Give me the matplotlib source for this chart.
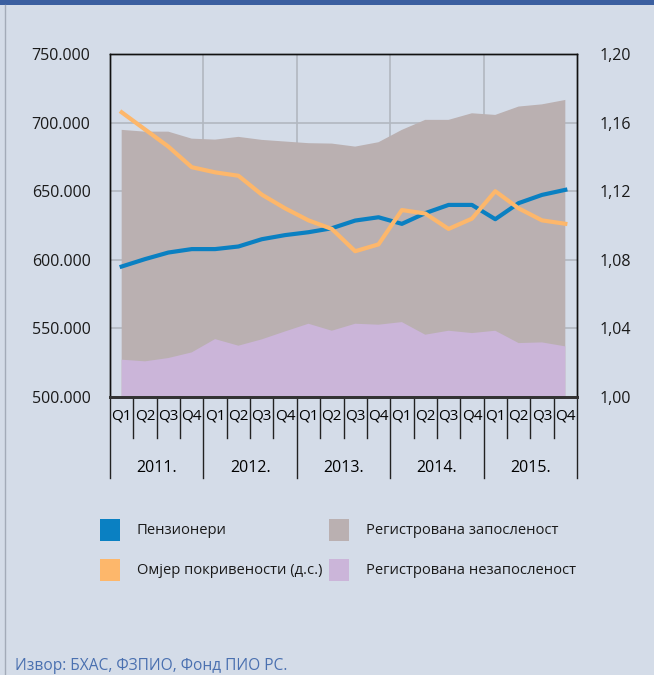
import matplotlib
matplotlib.use("Agg")
import matplotlib.pyplot as plt
from matplotlib.patches import Rectangle
from matplotlib.lines import Line2D
from matplotlib.ticker import FuncFormatter

plt.rcParams["font.family"] = ["Open Sans", "DejaVu Sans"]

# --- data ---
years = ["2011.", "2012.", "2013.", "2014.", "2015."]
quarters = ["Q1", "Q2", "Q3", "Q4"] * 5

pensioners = [595100, 600500, 605300, 607800, 607800, 609700, 615000, 618000, 620100, 623000,
              628600, 631000, 626200, 634000, 640000, 640000, 629600, 641300, 647300, 651000]
employment = [694700, 693400, 693400, 688300, 687600, 689600, 687400, 686200, 685000, 684700,
              682500, 685700, 694700, 702000, 702000, 706800, 705600, 711700, 713300, 716500]
unemployment = [527200, 526000, 528400, 532500, 542200, 537400, 542000, 547800, 553400, 548300,
                553400, 552700, 554600, 545400, 548300, 546600, 548300, 539300, 539800, 536900]
coverage = [1.166, 1.156, 1.146, 1.134, 1.131, 1.129, 1.118, 1.110, 1.103, 1.098,
            1.085, 1.089, 1.109, 1.107, 1.098, 1.104, 1.120, 1.110, 1.103, 1.101]

legend_labels = ["Пензионери", "Омјер покривености (д.с.)",
                 "Регистрована запосленост", "Регистрована незапосленост"]
source = "Извор: БХАС, ФЗПИО, Фонд ПИО РС."

# --- colours ---
BG = "#D4DCE8"
TOPBAR = "#3B5FA0"
BLUE = "#0A80C2"
ORANGE = "#FDB76B"
GRAY = "#BAB0B1"
PURPLE = "#CBB5D9"
GRID = "#B2B7C0"
SRC = "#4A70B0"

W, H = 654, 675
fig = plt.figure(figsize=(W / 100, H / 100), dpi=100)
fig.patch.set_facecolor(BG)

ax = fig.add_axes([110 / W, 1 - 397 / H, 467 / W, 343 / H])
ax.set_facecolor(BG)

x = [i + 0.5 for i in range(len(pensioners))]
ax.fill_between(x, employment, 0, color=GRAY, lw=0, zorder=2)
ax.fill_between(x, unemployment, 0, color=PURPLE, lw=0, zorder=2.5)
ax.plot(x, pensioners, color=BLUE, lw=3, zorder=4)

ax.set_xlim(0, 20)
ax.set_ylim(500000, 750000)
ax.set_yticks(range(500000, 750001, 50000))
ax.yaxis.set_major_formatter(FuncFormatter(lambda v, p: f"{int(v):,}".replace(",", ".")))
ax.tick_params(axis="y", length=0, pad=14, labelsize=11.5, colors="#1a1a1a")
ax.set_xticks([4, 8, 12, 16])
ax.tick_params(axis="x", length=0, labelbottom=False)
ax.grid(color=GRID, lw=1.2)
ax.set_axisbelow(True)

ax2 = ax.twinx()
ax2.plot(x, coverage, color=ORANGE, lw=3, zorder=5)
ax2.set_ylim(1.0, 1.2)
ax2.set_yticks([1.00, 1.04, 1.08, 1.12, 1.16, 1.20])
ax2.yaxis.set_major_formatter(FuncFormatter(lambda v, p: f"{v:.2f}".replace(".", ",")))
ax2.tick_params(axis="y", length=0, pad=16, labelsize=11.5, colors="#1a1a1a")

for a in (ax, ax2):
    for side in ("left", "right", "top"):
        a.spines[side].set_color("#111111")
        a.spines[side].set_linewidth(1)
    a.spines["bottom"].set_color("#333333")
    a.spines["bottom"].set_linewidth(2)

# category axis: quarter / year separators and labels
trans = ax.get_xaxis_transform()
for i in range(21):
    depth = 0.236 if i % 4 == 0 else 0.1195
    ax.plot([i, i], [0, -depth], transform=trans, clip_on=False, color="#222222", lw=1)
for i, q in enumerate(quarters):
    ax.text(i + 0.5, -0.056, q, transform=trans, ha="center", va="center", fontsize=11)
for k, yr in enumerate(years):
    ax.text(4 * k + 2, -0.207, yr, transform=trans, ha="center", va="center", fontsize=11.5)

# legend
legend_items = [
    (100, 530, BLUE, legend_labels[0]),
    (100, 570, ORANGE, legend_labels[1]),
    (329, 530, GRAY, legend_labels[2]),
    (329, 570, PURPLE, legend_labels[3]),
]
for px, py, col, lab in legend_items:
    fig.patches.append(Rectangle((px / W, 1 - (py + 11) / H), 20 / W, 22 / H,
                                 transform=fig.transFigure, color=col, lw=0))
    fig.text((px + 37) / W, 1 - py / H, lab, ha="left", va="center", fontsize=10.6, color="#1a1a1a")

# frame decorations
fig.patches.append(Rectangle((0, 1 - 5 / H), 1, 5 / H, transform=fig.transFigure, color=TOPBAR, lw=0))
fig.add_artist(Line2D([4.5 / W, 4.5 / W], [0, 1 - 5 / H], color="#A3ABB8", lw=1))

fig.text(15 / W, 1 - 666 / H, source, ha="left", va="center", fontsize=11.2, color=SRC)

fig.savefig("out.png", dpi=100, facecolor=BG)
